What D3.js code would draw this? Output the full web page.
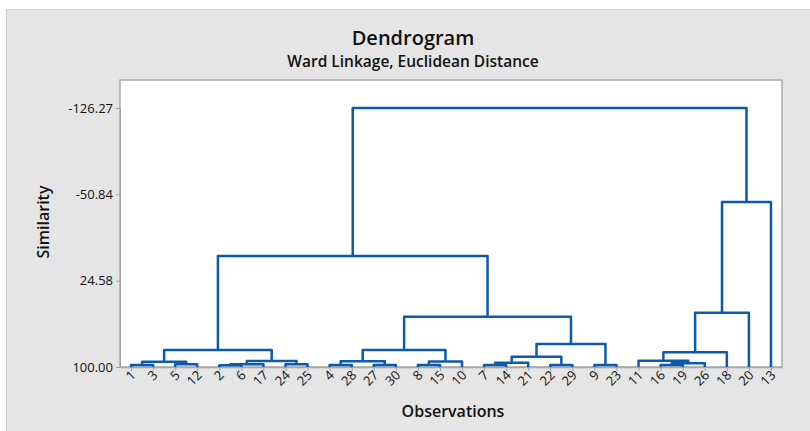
<!DOCTYPE html>
<html>
<head>
<meta charset="utf-8">
<script src="https://cdn.jsdelivr.net/npm/d3@7"></script>
<style>
  body { margin: 0; background: #fff; }
  text { font-family: "Open Sans", "Noto Sans", sans-serif; fill: #111; }
</style>
</head>
<body>
<div id="chart"></div>
<script>
// leaf order along the x axis
const observations = [1, 3, 5, 12, 2, 6, 17, 24, 25, 4, 28, 27, 30, 8, 15, 10,
    7, 14, 21, 22, 29, 9, 23, 11, 16, 19, 26, 18, 20, 13];

// amalgamation steps: [cluster a, cluster b, similarity]; "#k" = result of step k
const steps = [
    [1, 3, 98.2],          // 0
    [5, 12, 97.6],         // 1
    ["#0", "#1", 95.4],    // 2
    [2, 6, 98.4],          // 3
    ["#3", 17, 97.6],      // 4
    [24, 25, 97.6],        // 5
    ["#4", "#5", 94.8],    // 6
    ["#2", "#6", 85.1],    // 7
    [4, 28, 98.2],         // 8
    [27, 30, 98.2],        // 9
    ["#8", "#9", 95.0],    // 10
    [8, 15, 98.2],         // 11
    ["#11", 10, 95.2],     // 12
    ["#10", "#12", 85.1],  // 13
    [7, 14, 98.2],         // 14
    ["#14", 21, 96.2],     // 15
    [22, 29, 98.2],        // 16
    ["#15", "#16", 91.0],  // 17
    [9, 23, 98.2],         // 18
    ["#17", "#18", 79.9],  // 19
    ["#13", "#19", 56.1],  // 20
    ["#7", "#20", 3.0],    // 21
    [16, 19, 98.2],        // 22
    ["#22", 26, 96.8],     // 23
    [11, "#23", 94.5],     // 24
    ["#24", 18, 87.2],     // 25
    ["#25", 20, 52.6],     // 26
    ["#26", 13, -44.2],    // 27
    ["#21", "#27", -126.27] // 28
];

const yTicks = [100.00, 24.58, -50.84, -126.27];

function main() {
    const width = 810, height = 431;
    const plot = { left: 120, right: 782, top: 80, bottom: 367 };
    const lineColor = "#0b5bad";

    const svg = d3.select("#chart").append("svg")
        .attr("width", width)
        .attr("height", height);

    // outer panel
    svg.append("rect")
        .attr("x", 6.5).attr("y", 9.5)
        .attr("width", width).attr("height", height)
        .style("fill", "#e5e5e5")
        .style("stroke", "#cdcdcd");

    // plot area
    svg.append("rect")
        .attr("x", plot.left).attr("y", plot.top)
        .attr("width", plot.right - plot.left)
        .attr("height", plot.bottom - plot.top)
        .style("fill", "white")
        .style("stroke", "#ababab")
        .style("stroke-width", 1.5);

    var x = d3.scalePoint()
        .domain(observations)
        .range([plot.left, plot.right])
        .padding(0.5);

    var y = d3.scaleLinear()
        .domain([100, -126.27])
        .range([plot.bottom, 108]);

    // axes
    var yAxis = svg.append("g")
        .attr("transform", "translate(" + plot.left + ",0)")
        .call(d3.axisLeft(y).tickValues(yTicks).tickSize(4)
            .tickFormat(function (d) { return d.toFixed(2); }));
    yAxis.select(".domain").style("stroke", "#a0a0a0");
    yAxis.selectAll(".tick line").style("stroke", "#a0a0a0");
    yAxis.selectAll(".tick text")
        .attr("x", -7)
        .style("font-size", "13px")
        .style("fill", "#111");

    var xAxis = svg.append("g")
        .attr("transform", "translate(0," + plot.bottom + ")")
        .call(d3.axisBottom(x).tickSize(4).tickSizeOuter(0));
    xAxis.select(".domain").style("stroke", "#a8a8a8").style("stroke-width", 1.5);
    xAxis.selectAll(".tick line").style("stroke", "#a0a0a0");
    xAxis.selectAll(".tick text")
        .attr("text-anchor", "end")
        .attr("dy", null)
        .attr("y", 0)
        .attr("transform", "translate(5,9) rotate(-45)")
        .style("font-size", "13px")
        .style("fill", "#111");

    // dendrogram links
    var nodes = [];
    function pos(c) {
        if (typeof c === "string") return nodes[+c.slice(1)];
        return { x: x(c), s: 100 };
    }
    var links = svg.append("g");
    steps.forEach(function (st) {
        var a = pos(st[0]), b = pos(st[1]);
        var yy = y(st[2]);
        links.append("path")
            .attr("d", "M" + a.x + "," + y(a.s) + "V" + yy + "H" + b.x + "V" + y(b.s))
            .style("fill", "none")
            .style("stroke", lineColor)
            .style("stroke-width", 2.5)
            .style("stroke-linejoin", "round");
        nodes.push({ x: (a.x + b.x) / 2, s: st[2] });
    });

    // titles
    svg.append("text")
        .text("Dendrogram")
        .attr("x", 413).attr("y", 45)
        .attr("text-anchor", "middle")
        .style("font-size", "20px")
        .style("font-weight", 600);

    svg.append("text")
        .text("Ward Linkage, Euclidean Distance")
        .attr("x", 413).attr("y", 67)
        .attr("text-anchor", "middle")
        .style("font-size", "15.5px")
        .style("font-weight", 600);

    svg.append("text")
        .text("Observations")
        .attr("x", 453).attr("y", 417)
        .attr("text-anchor", "middle")
        .style("font-size", "16px")
        .style("font-weight", 600);

    svg.append("text")
        .text("Similarity")
        .attr("transform", "translate(49,222) rotate(-90)")
        .attr("text-anchor", "middle")
        .style("font-size", "16px")
        .style("font-weight", 600);
}
main();
</script>
</body>
</html>
